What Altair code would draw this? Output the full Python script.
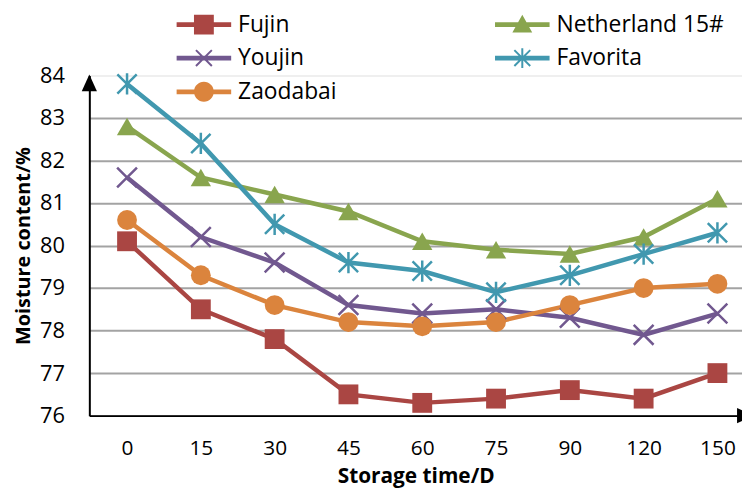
import json
import altair as alt
import pandas as pd

times = ["0", "15", "30", "45", "60", "75", "90", "120", "150"]
# legend order (column-major): Fujin, Youjin, Zaodabai | Netherland 15#, Favorita
series = ["Fujin", "Youjin", "Zaodabai", "Netherland 15#", "Favorita"]
fujin = [80.1, 78.5, 77.8, 76.5, 76.3, 76.4, 76.6, 76.4, 77.0]
youjin = [81.6, 80.2, 79.6, 78.6, 78.4, 78.5, 78.3, 77.9, 78.4]
zaodabai = [80.6, 79.3, 78.6, 78.2, 78.1, 78.2, 78.6, 79.0, 79.1]
netherland = [82.8, 81.6, 81.2, 80.8, 80.1, 79.9, 79.8, 80.2, 81.1]
favorita = [83.8, 82.4, 80.5, 79.6, 79.4, 78.9, 79.3, 79.8, 80.3]
colors = ["#AA4643", "#71588F", "#DB843D", "#89A54E", "#4198AF"]

values = [fujin, youjin, zaodabai, netherland, favorita]
rows = []
for s, vals in zip(series, values):
    for i, (t, v) in enumerate(zip(times, vals)):
        rows.append({"series": s, "idx": i, "time": t, "value": v})
df = pd.DataFrame(rows)

FONT = "Open Sans"

# marker paths
X_PATH = "M-1,-1L1,1M-1,1L1,-1"
AST_PATH = "M-1,-1L1,1M-1,1L1,-1M0,-1.1L0,1.1"

# legend symbols: line + marker (filled polygons, same orientation)
LINE = "M-2.75,-0.24H2.75V0.24H-2.75Z"
leg_square = LINE + "M-1,-1H1V1H-1Z"
leg_tri = LINE + "M0,-1L1,0.8L-1,0.8Z"
leg_x = (LINE
         + "M-0.73,-0.87L0.87,0.73L0.73,0.87L-0.87,-0.73Z"
         + "M-0.87,0.73L0.73,-0.87L0.87,-0.73L-0.73,0.87Z")
leg_ast = leg_x + "M-0.1,-1H0.1V1H-0.1Z"
leg_circle = LINE + "M-1,0A1,1 0 1,1 1,0A1,1 0 1,1 -1,0Z"
legend_paths = [leg_square, leg_x, leg_circle, leg_tri, leg_ast]

W, H = 658, 343

color_scale = alt.Scale(domain=series, range=colors)
L = alt.Legend(
    title=None, orient="none", legendX=104, legendY=-63, columns=2,
    columnPadding=159, rowPadding=10, labelFont=FONT, labelFontSize=23,
    labelColor="black", labelLimit=400, symbolSize=400, symbolStrokeWidth=0,
    labelOffset=23, symbolOpacity=1, padding=0, gridAlign="each",
)

x_enc = alt.X(
    "idx:Q",
    scale=alt.Scale(domain=[-0.511, 8.333], nice=False, zero=False),
    axis=alt.Axis(
        values=list(range(len(times))),
        labelExpr=json.dumps(times) + "[datum.value]",
        title="Storage time/D", titleFont=FONT, titleFontSize=21,
        titleFontWeight="bold", titleColor="black", titleY=67,
        titleBaseline="alphabetic",
        labelFont=FONT, labelFontSize=21, labelColor="black",
        labelPadding=22, ticks=False, grid=False,
        domainColor="black", domainWidth=2,
    ),
)
y_enc = alt.Y(
    "value:Q",
    scale=alt.Scale(domain=[76, 84], nice=False, zero=False),
    axis=alt.Axis(
        values=list(range(76, 85)), format="d",
        title="Moisture content/%", titleFont=FONT, titleFontSize=20,
        titleFontWeight="bold", titleColor="black", titleX=-60,
        titleBaseline="alphabetic",
        labelFont=FONT, labelFontSize=22, labelColor="black",
        labelPadding=25, ticks=False, grid=True, gridWidth=2,
        gridColor={"condition": {"test": "datum.value === 84", "value": "#efefef"},
                   "value": "#a3a3a3"},
        domainColor="black", domainWidth=2,
    ),
)

base = alt.Chart(df)

lines = base.mark_line(strokeWidth=4.5).encode(
    x=x_enc, y=y_enc,
    color=alt.Color("series:N", scale=color_scale, legend=L),
    detail="series:N",
)

def pts(name, **kw):
    c = colors[series.index(name)]
    return base.transform_filter(alt.datum.series == name).mark_point(
        color=c, opacity=1, **kw
    ).encode(x="idx:Q", y="value:Q")

p_fujin = pts("Fujin", shape="square", filled=True, size=400)
p_neth = pts("Netherland 15#", shape="triangle-up", filled=True, size=420)
p_you = pts("Youjin", shape=X_PATH, filled=False, size=400, strokeWidth=2.5)
p_fav = pts("Favorita", shape=AST_PATH, filled=False, size=380, strokeWidth=2.5)
p_zao = pts("Zaodabai", shape="circle", filled=True, size=400)

legend_layer = base.transform_filter("false").mark_point(
    filled=True, opacity=1, size=400
).encode(
    color=alt.Color("series:N", scale=color_scale, legend=L),
    shape=alt.Shape("series:N", scale=alt.Scale(domain=series, range=legend_paths), legend=L),
)

one = alt.Data(values=[{"a": 1}])
arrow_y = alt.Chart(one).mark_point(
    shape="M0,-1L0.9,1L-0.9,1Z", filled=True, color="black", opacity=1, size=289
).encode(x=alt.value(0), y=alt.value(7.5))
arrow_x = alt.Chart(one).mark_point(
    shape="M1,0L-1,0.9L-1,-0.9Z", filled=True, color="black", opacity=1, size=289
).encode(x=alt.value(W + 3.5), y=alt.value(H))

chart = alt.layer(
    lines, p_fujin, p_you, p_zao, p_neth, p_fav, legend_layer, arrow_y, arrow_x
).properties(
    width=W, height=H,
    autosize=alt.AutoSizeParams(type="none"),
    padding={"left": 82, "top": 66, "right": 0, "bottom": 72},
).configure_view(stroke=None).configure(background="white")

chart.save("out.html", embed_options={"renderer": "svg", "actions": False})
